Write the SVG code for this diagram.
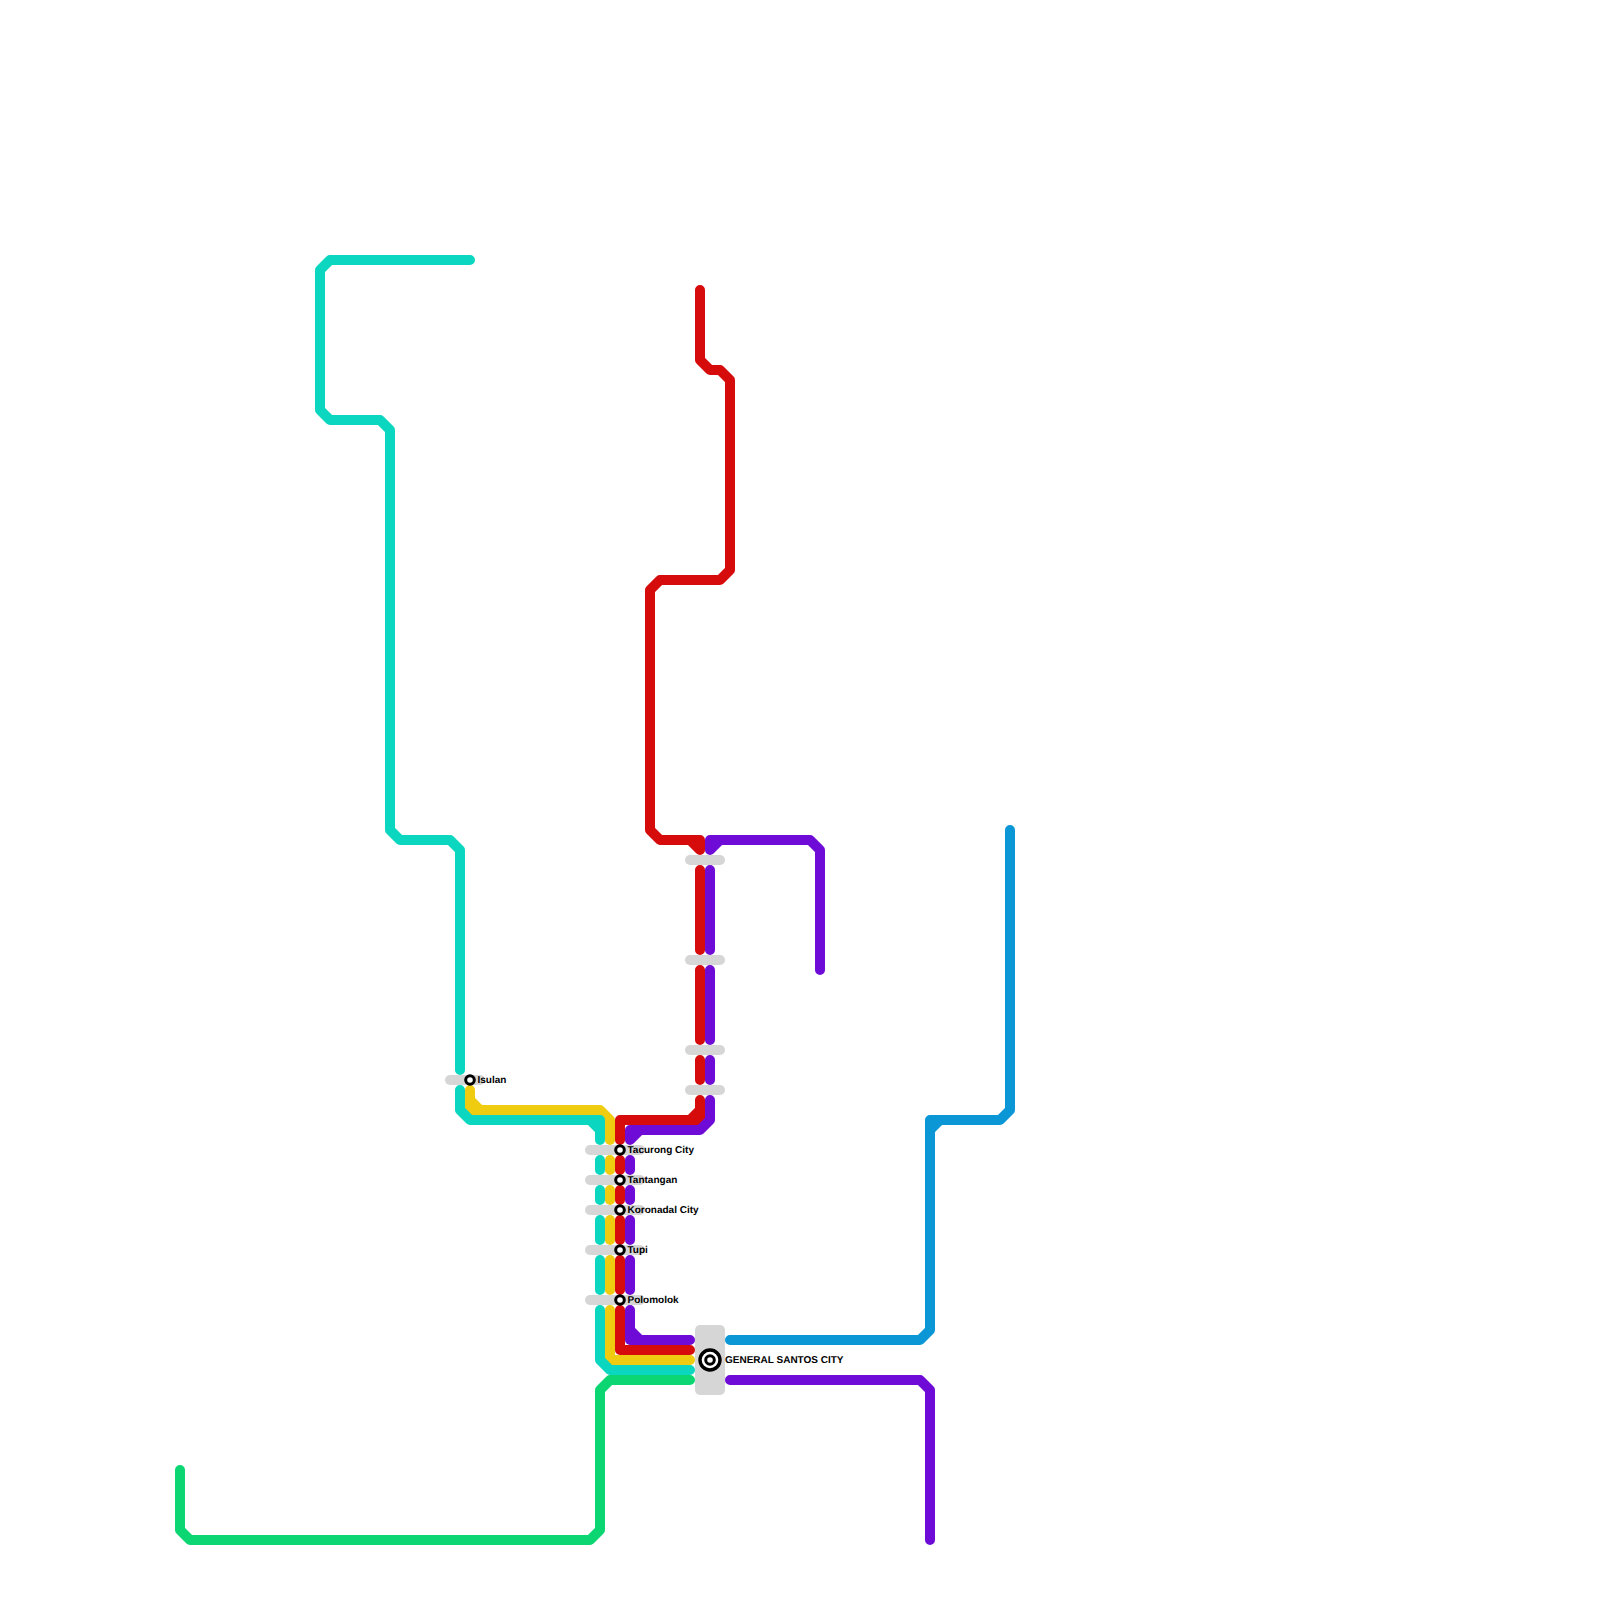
<svg xmlns="http://www.w3.org/2000/svg" width="1600" height="1600" viewBox="0 0 1600 1600">
<style>
.l{fill:none;stroke-width:10;stroke-linecap:round;stroke-linejoin:round}
.t{stroke:#0bd6c0}.y{stroke:#f0cc10}.r{stroke:#d60b0b}.p{stroke:#6f0bd6}.g{stroke:#0bd672}.b{stroke:#0b97d6}
.c{fill:none;stroke:#d6d6d6;stroke-width:10;stroke-linecap:round}
.m{fill:#fff;stroke:#000;stroke-width:3}
text{font-family:"Liberation Sans",Arial,sans-serif;font-weight:700;font-size:10px;fill:#000;text-rendering:geometricPrecision}
</style>
<rect width="1600" height="1600" fill="#fff"/>
<g id="connectors">
<path class="l t" d="M470 260H330L320 270V410L330 420H380L390 430V830L400 840H450L460 850V1070"/>
<path class="l y" d="M470 1090V1110H480M470 1100L480 1110H600L610 1120V1140M610 1160V1170M610 1190V1200M610 1220V1240M610 1260V1290M610 1310V1360H690"/>
<path class="l t" d="M460 1090V1110L470 1120H600V1130M590 1120L600 1130V1140M600 1160V1170M600 1190V1200M600 1220V1240M600 1260V1290M600 1310V1360L610 1370H690"/>
<path class="l g" d="M690 1380H610L600 1390V1530L590 1540H190L180 1530V1470"/>
<path class="l p" d="M730 1380H920L930 1390V1540"/>
<path class="l r" d="M700 290V360L710 370H720L730 380V570L720 580H660L650 590V830L660 840H700V850M690 840L700 850M700 870V950M700 970V1040M700 1060V1080M700 1100V1120H690M700 1110L690 1120H620V1140M620 1160V1170M620 1190V1200M620 1220V1240M620 1260V1290M620 1310V1350H690"/>
<path class="l p" d="M710 850V840H720M710 850L720 840H810L820 850V970M710 870V950M710 970V1040M710 1060V1080M710 1100V1120L700 1130H630V1140M640 1130L630 1140M630 1160V1170M630 1190V1200M630 1220V1240M630 1260V1290M630 1310V1340H640M630 1330L640 1340H690"/>
<path class="l b" d="M1010 830V1110L1000 1120H930V1130M940 1120L930 1130V1330L920 1340H730"/>
</g>
<g id="isulan"><path class="c" d="M450 1080H480"/><circle class="m" cx="470" cy="1080" r="4.3"/><text x="477.5" y="1083">Isulan</text></g>
<g id="tacurong"><path class="c" d="M590 1150H640"/><circle class="m" cx="620" cy="1150" r="4.3"/><text x="627.5" y="1153">Tacurong City</text></g>
<g id="tantangan"><path class="c" d="M590 1180H640"/><circle class="m" cx="620" cy="1180" r="4.3"/><text x="627.5" y="1183">Tantangan</text></g>
<g id="koronadal"><path class="c" d="M590 1210H640"/><circle class="m" cx="620" cy="1210" r="4.3"/><text x="627.5" y="1213">Koronadal City</text></g>
<g id="tupi"><path class="c" d="M590 1250H640"/><circle class="m" cx="620" cy="1250" r="4.3"/><text x="627.5" y="1253">Tupi</text></g>
<g id="polomolok"><path class="c" d="M590 1300H640"/><circle class="m" cx="620" cy="1300" r="4.3"/><text x="627.5" y="1303">Polomolok</text></g>
<g id="int1"><path class="c" d="M690 860H720"/></g>
<g id="int2"><path class="c" d="M690 960H720"/></g>
<g id="int3"><path class="c" d="M690 1050H720"/></g>
<g id="int4"><path class="c" d="M690 1090H720"/></g>
<g id="gensan"><rect x="695" y="1325" width="30" height="70" rx="5" fill="#d6d6d6"/><circle cx="710" cy="1360" r="10" fill="#fff" stroke="#000" stroke-width="3.4"/><circle cx="710" cy="1360" r="4.3" fill="#fff" stroke="#000" stroke-width="3"/><text x="725" y="1363">GENERAL SANTOS CITY</text></g>
</svg>
